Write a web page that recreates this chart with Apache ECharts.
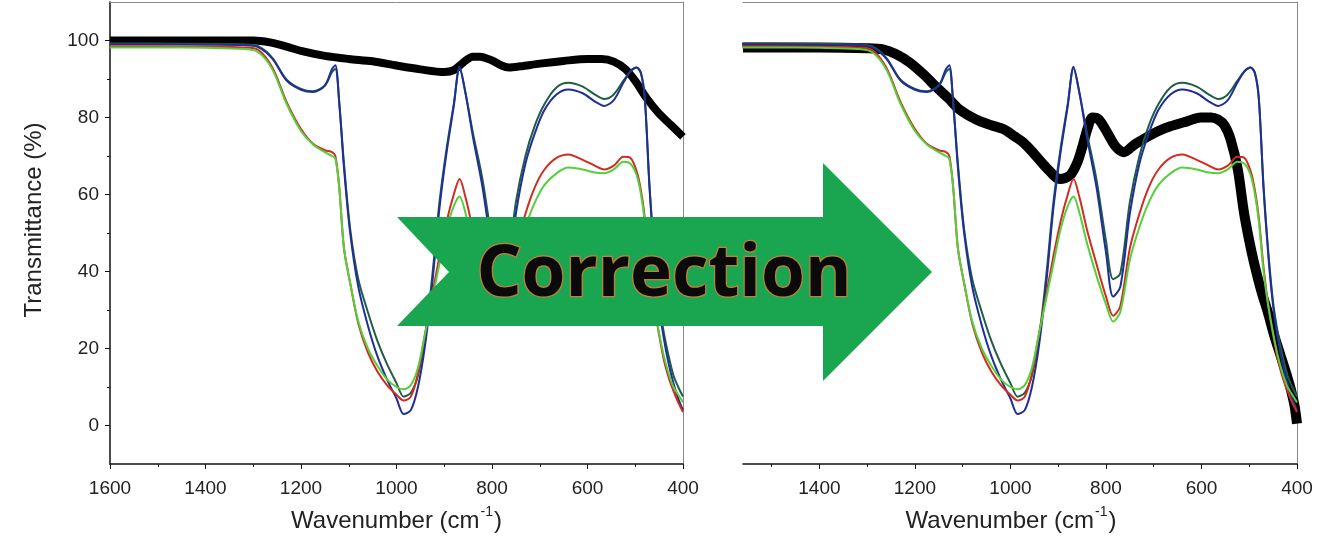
<!DOCTYPE html>
<html>
<head>
<meta charset="utf-8">
<script src="https://cdn.jsdelivr.net/npm/echarts@6.0.0/dist/echarts.min.js"></script>
<style>
html,body{margin:0;padding:0;background:#fff;}
#chart{width:1318px;height:558px;}
</style>
</head>
<body>
<div id="chart"></div>
<script>
// ---------- data ----------
const wnColor = [1600,1500,1400,1320,1290,1260,1230,1200,1175,1150,1135,1128,1120,1110,1097,1080,1060,1040,1020,1000,985,970,955,940,925,910,895,880,868,855,840,820,800,785,770,750,730,710,690,665,640,610,585,565,545,525,510,497,488,480,470,460,450,440,430,420,410,400];

const darkGreenT = [99.2,99.2,99.1,99.0,98.5, 95.5,89.8,87.4,86.8,88.3, 91.8,92.6,84,68,51, 38,29.5,22,16,11, 7.5,8.5,13,23,39, 58,72,83.5,92.8,86, 76,64,48,38,39.5, 58,70,78,83.5,87.8, 89,88,86,84.8,86, 89.5,92,93,91.5,85, 62,45,32,24,18, 13,10,7.5];

const blueT = [99.0,99.0,98.9,98.8,98.3, 95.3,89.6,87.2,86.6,88.3, 92.6,93.6,84,67,50, 36,26,18,12,7, 3,4,10,21,37, 56.5,71,83,93.2,86, 75,62,45,33.5,36, 55,68,76,82,86, 87.3,86.3,84.2,83,84.5, 89,92,93,91.5,85, 61.5,44,31,22.5,16, 11,7,4];

const redT = [98.5,98.5,98.4,98.2,97.6, 93,84,77,73.2,71.5, 71,70,62,46,37, 26.5,19,14,10.5,8, 6.5,7.5,13.5,24,34, 44,53,60,64,59, 51,42,33.5,28.5,31, 46,55,62,66.5,69.5, 70.4,69,67.5,66.5,67.5, 69.8,69.5,66,61,54, 41,31,23.5,17,12.5, 9,6,3.5];

const lightGreenT = [98.2,98.2,98.1,97.8,97.0, 92.5,83.5,76.5,73,71, 70,69.3,62,46,37, 27,20,15.5,12,10, 9.4,10.5,15,24,33, 42,51,57,59.5,55, 47.5,39,31.5,27,29.5, 43,51.5,58,62.5,65.5, 67,66.5,65.7,65.5,66.5, 68.5,68,65,60,53, 40,31,24,18,13.5, 10,8,6];

const wnBlackLeft = [1600,1500,1400,1300,1265,1230,1200,1150,1100,1050,1000,950,900,880,860,840,825,800,780,765,740,700,650,600,570,545,520,500,476,450,425,400];
const blackLeft   = [100,100,100,100,99.5,98.4,97.3,96,95.2,94.6,93.5,92.5,91.8,92.3,94.3,95.8,95.8,94.8,93.5,93,93.3,94,94.7,95.2,95.2,94.5,92.5,89.5,85,81,78,75];

const wnBlackRight = [1560,1500,1400,1300,1267,1240,1211,1180,1156,1130,1106,1072,1040,1015,990,973,950,925,896,875,860,848,839,828,815,797,780,763,740,713,690,665,630,602,580,566,552,539,524,511,500,490,475,461,448,434,420,413,405,400];
const blackRight   = [98.2,98.2,98.2,98,97.7,96.5,94.3,91,88,85,82,79.5,78,77,75,73.5,70.5,67,64,65,68.3,73,77,80,79.5,76,72.5,71,73,75,76.5,77.7,79,80,80,79.5,78,74.3,66.5,55.3,48,42.3,35,29.4,23.5,18,12.5,9.4,5,0.5];

const xMajorRight = [1400,1200,1000,800,600,400];
const xMinorRight = [1500,1300,1100,900,700,500];
const yMajor = [0,20,40,60,80,100];
const yMinor = [10,30,50,70,90];

const arrowText = 'Correction';

// ---------- helpers ----------
function pts(xs, ys){ return xs.map((x,i)=>[x, ys[i]]); }
const plain = v => String(v);

const FONT = 'Liberation Sans, Arial, sans-serif';
const labelStyle = {color:'#222', fontSize:19, fontFamily:FONT, formatter:plain};
const nameStyle = {
  color:'#222', fontSize:24, fontFamily:FONT,
  rich:{
    a:{fontSize:24, fontFamily:FONT, color:'#222', lineHeight:28, verticalAlign:'bottom'},
    s:{fontSize:14, fontFamily:FONT, color:'#222', lineHeight:28, verticalAlign:'top', padding:[0,1,0,1]}
  }
};
const xName = '{a|Wavenumber (cm}{s|-1}{a|)}';

const colorSeries = [
  {name:'s1', data:darkGreenT, color:'#1f5e46'},
  {name:'s2', data:blueT, color:'#1f2f96'},
  {name:'s3', data:redT, color:'#d42a1e'},
  {name:'s4', data:lightGreenT, color:'#55cf3c'}
];

function makeSeries(xIdx, yIdx, wnB, bl, bw){
  const out = [{
    type:'line', xAxisIndex:xIdx, yAxisIndex:yIdx, data:pts(wnB, bl),
    showSymbol:false, smooth:0.3,
    lineStyle:{color:'#000', width:bw, cap:'butt', join:'round'}, z:2
  }];
  colorSeries.forEach(s=>{
    out.push({
      type:'line', xAxisIndex:xIdx, yAxisIndex:yIdx, data:pts(wnColor, s.data),
      showSymbol:false, smooth:0.3,
      lineStyle:{color:s.color, width:2, join:'round'}, z:3
    });
  });
  return out;
}

const frameLine = {show:true, lineStyle:{color:'#8a8a8a', width:1}};

const option = {
  animation:false,
  backgroundColor:'#fff',
  grid:[
    {left:110, right:635, top:2, bottom:94},
    {left:743, right:21, top:2, bottom:94}
  ],
  xAxis:[
    { // 0 left bottom
      gridIndex:0, type:'value', position:'bottom', inverse:true, min:400, max:1600, interval:200,
      axisLine:{show:true, onZero:false, lineStyle:{color:'#111', width:1.5}},
      axisTick:{show:true, length:5, lineStyle:{color:'#111'}},
      minorTick:{show:true, splitNumber:2, length:3, lineStyle:{color:'#111'}},
      axisLabel:Object.assign({margin:15}, labelStyle),
      splitLine:{show:false}, minorSplitLine:{show:false},
      name:xName, nameLocation:'middle', nameGap:41, nameTextStyle:nameStyle
    },
    { // 1 left top frame
      gridIndex:0, type:'value', position:'top', inverse:true, min:400, max:1600,
      axisLine:Object.assign({onZero:false}, frameLine), axisTick:{show:false}, axisLabel:{show:false}, splitLine:{show:false}
    },
    { // 2 right bottom
      gridIndex:1, type:'value', position:'bottom', inverse:true, min:400, max:1560,
      axisLine:{show:true, onZero:false, lineStyle:{color:'#111', width:1.5}},
      axisTick:{show:true, length:5, customValues:xMajorRight, lineStyle:{color:'#111'}},
      axisLabel:Object.assign({margin:15, customValues:xMajorRight}, labelStyle),
      splitLine:{show:false},
      name:xName, nameLocation:'middle', nameGap:41,
      nameTextStyle:Object.assign({padding:[0,18,0,0]}, nameStyle)
    },
    { // 3 right bottom minor ticks
      gridIndex:1, type:'value', position:'bottom', inverse:true, min:400, max:1560,
      axisLine:{show:false, onZero:false}, axisTick:{show:true, length:3, customValues:xMinorRight, lineStyle:{color:'#111'}},
      axisLabel:{show:false}, splitLine:{show:false}
    },
    { // 4 right top frame
      gridIndex:1, type:'value', position:'top', inverse:true, min:400, max:1560,
      axisLine:Object.assign({onZero:false}, frameLine), axisTick:{show:false}, axisLabel:{show:false}, splitLine:{show:false}
    }
  ],
  yAxis:[
    { // 0 left main
      gridIndex:0, type:'value', position:'left', min:-10, max:110,
      axisLine:{show:true, onZero:false, lineStyle:{color:'#111', width:1.5}},
      axisTick:{show:true, length:5, customValues:yMajor, lineStyle:{color:'#111'}},
      axisLabel:Object.assign({margin:11, customValues:yMajor}, labelStyle),
      splitLine:{show:false},
      name:'Transmittance (%)', nameLocation:'middle', nameGap:64,
      nameTextStyle:{color:'#222', fontSize:24, fontFamily:FONT, padding:[0,0,0,26]}
    },
    { // 1 left minor ticks
      gridIndex:0, type:'value', position:'left', min:-10, max:110,
      axisLine:{show:false, onZero:false}, axisTick:{show:true, length:3, customValues:yMinor, lineStyle:{color:'#111'}},
      axisLabel:{show:false}, splitLine:{show:false}
    },
    { // 2 left right frame
      gridIndex:0, type:'value', position:'right', min:-10, max:110,
      axisLine:Object.assign({onZero:false}, frameLine), axisTick:{show:false}, axisLabel:{show:false}, splitLine:{show:false}
    },
    { // 3 right panel (frame on right side)
      gridIndex:1, type:'value', position:'right', min:-10, max:110,
      axisLine:Object.assign({onZero:false}, frameLine), axisTick:{show:false}, axisLabel:{show:false}, splitLine:{show:false}
    }
  ],
  series: makeSeries(0, 0, wnBlackLeft, blackLeft, 8).concat(makeSeries(2, 3, wnBlackRight, blackRight, 10)),
  graphic:[
    {
      type:'polygon', z:100,
      shape:{points:[[397,217],[823,217],[823,163],[932,272],[823,381],[823,326],[397,326],[449,272]]},
      style:{fill:'#1aa650'}
    },
    {
      type:'text', z:101, x:664, y:276,
      style:{
        text:arrowText, fill:'#0a0a0a', stroke:'#c48036', lineWidth:2.5,
        font:'bold 71px "Open Sans", "Noto Sans", sans-serif', align:'center', verticalAlign:'middle'
      }
    }
  ]
};

const chart = echarts.init(document.getElementById('chart'), null, {renderer:'canvas'});
chart.setOption(option);
</script>
</body>
</html>
